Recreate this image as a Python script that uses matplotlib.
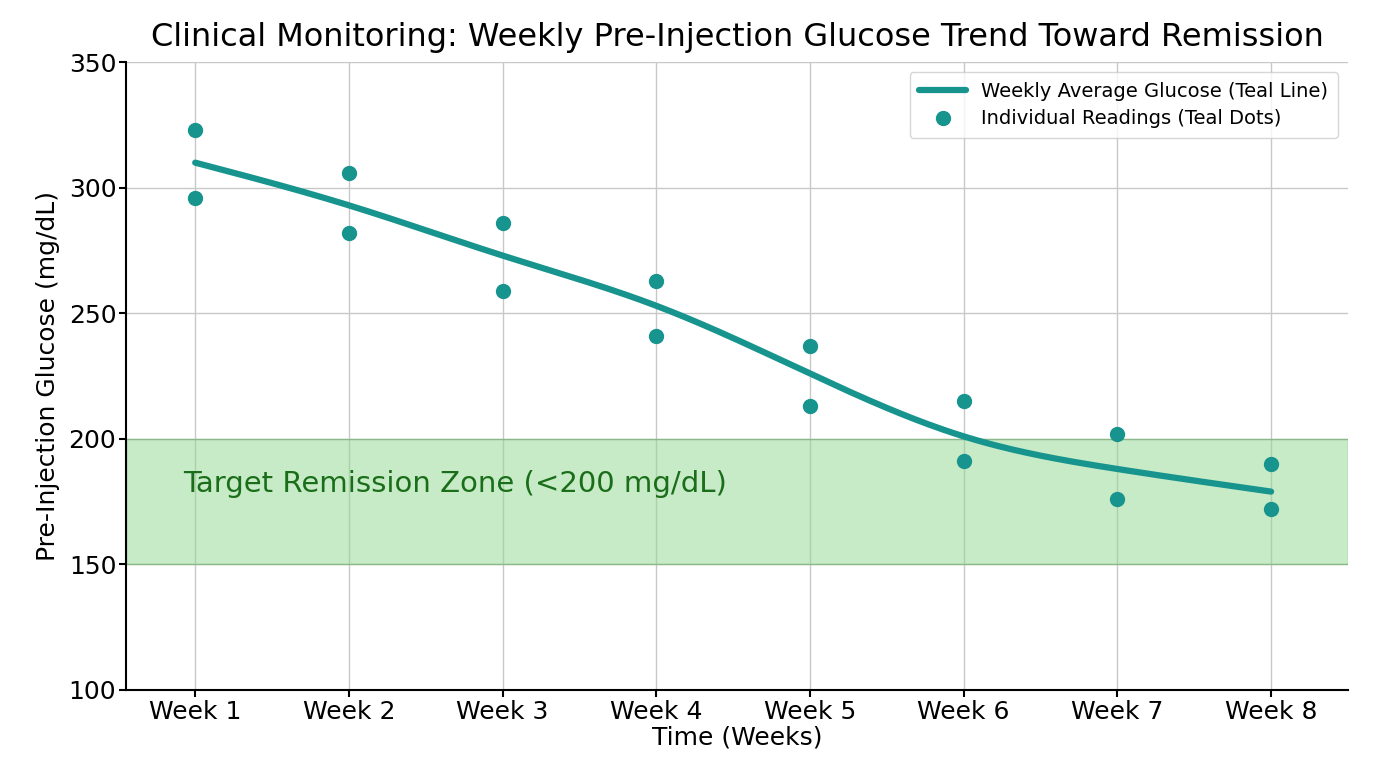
import numpy as np
import matplotlib.pyplot as plt

# --- data ---
weeks = np.arange(1, 9)
week_labels = [f"Week {w}" for w in weeks]
readings_high = [323, 306, 286, 263, 237, 215, 202, 190]
readings_low = [296, 282, 259, 241, 213, 191, 176, 172]
weekly_avg = [310, 293, 273, 253, 226, 201, 188, 179]

TEAL = '#17948e'


def natural_spline(x, y, n=300):
    # plain natural cubic spline, just to draw the average line smoothly
    x = np.asarray(x, float)
    y = np.asarray(y, float)
    k = len(x)
    h = np.diff(x)
    A = np.zeros((k, k))
    r = np.zeros(k)
    A[0, 0] = A[-1, -1] = 1
    for i in range(1, k - 1):
        A[i, i - 1] = h[i - 1]
        A[i, i] = 2 * (h[i - 1] + h[i])
        A[i, i + 1] = h[i]
        r[i] = 3 * ((y[i + 1] - y[i]) / h[i] - (y[i] - y[i - 1]) / h[i - 1])
    c = np.linalg.solve(A, r)
    b = (y[1:] - y[:-1]) / h - h * (2 * c[:-1] + c[1:]) / 3
    d = (c[1:] - c[:-1]) / (3 * h)
    xs = np.linspace(x[0], x[-1], n)
    idx = np.clip(np.searchsorted(x, xs) - 1, 0, k - 2)
    dx = xs - x[idx]
    ys = y[idx] + b[idx] * dx + c[idx] * dx ** 2 + d[idx] * dx ** 3
    return xs, ys


fig = plt.figure(figsize=(13.76, 7.68), dpi=100)
ax = fig.add_axes([0.0916, 0.1016, 0.888, 0.8174])

# target zone
ax.axhspan(150, 200, facecolor='#8fd88f', alpha=0.5, edgecolor='#5aa85a', lw=1, zorder=1)
ax.text(0.92, 182, 'Target Remission Zone (<200 mg/dL)', color='#1a6e1a',
        fontsize=21, va='center', ha='left', zorder=3)

xs, ys = natural_spline(weeks, weekly_avg)
ax.plot(xs, ys, color=TEAL, lw=4.5, solid_capstyle='round', zorder=4,
        label='Weekly Average Glucose (Teal Line)')
ax.plot(np.concatenate([weeks, weeks]), readings_high + readings_low, 'o',
        ms=10, color=TEAL, zorder=5, label='Individual Readings (Teal Dots)')

ax.set_xlim(0.55, 8.5)
ax.set_ylim(100, 350)
ax.set_xticks(weeks)
ax.set_xticklabels(week_labels)
ax.set_yticks([100, 150, 200, 250, 300, 350])
ax.tick_params(labelsize=18, length=5, width=1.5, direction='out', pad=2)
ax.grid(True, color='#c8c8c8', lw=1, zorder=0)
ax.set_axisbelow(True)
for s in ['top', 'right']:
    ax.spines[s].set_visible(False)
for s in ['left', 'bottom']:
    ax.spines[s].set_linewidth(1.5)

ax.set_title('Clinical Monitoring: Weekly Pre-Injection Glucose Trend Toward Remission',
             fontsize=23, pad=12)
ax.set_xlabel('Time (Weeks)', fontsize=18, labelpad=1)
ax.set_ylabel('Pre-Injection Glucose (mg/dL)', fontsize=18, labelpad=6)
ax.legend(loc='upper right', fontsize=14, frameon=True, fancybox=True,
          edgecolor='#cccccc', borderpad=0.5, handlelength=2.4, labelspacing=0.45)

fig.savefig('out.png', dpi=100, facecolor='white')
